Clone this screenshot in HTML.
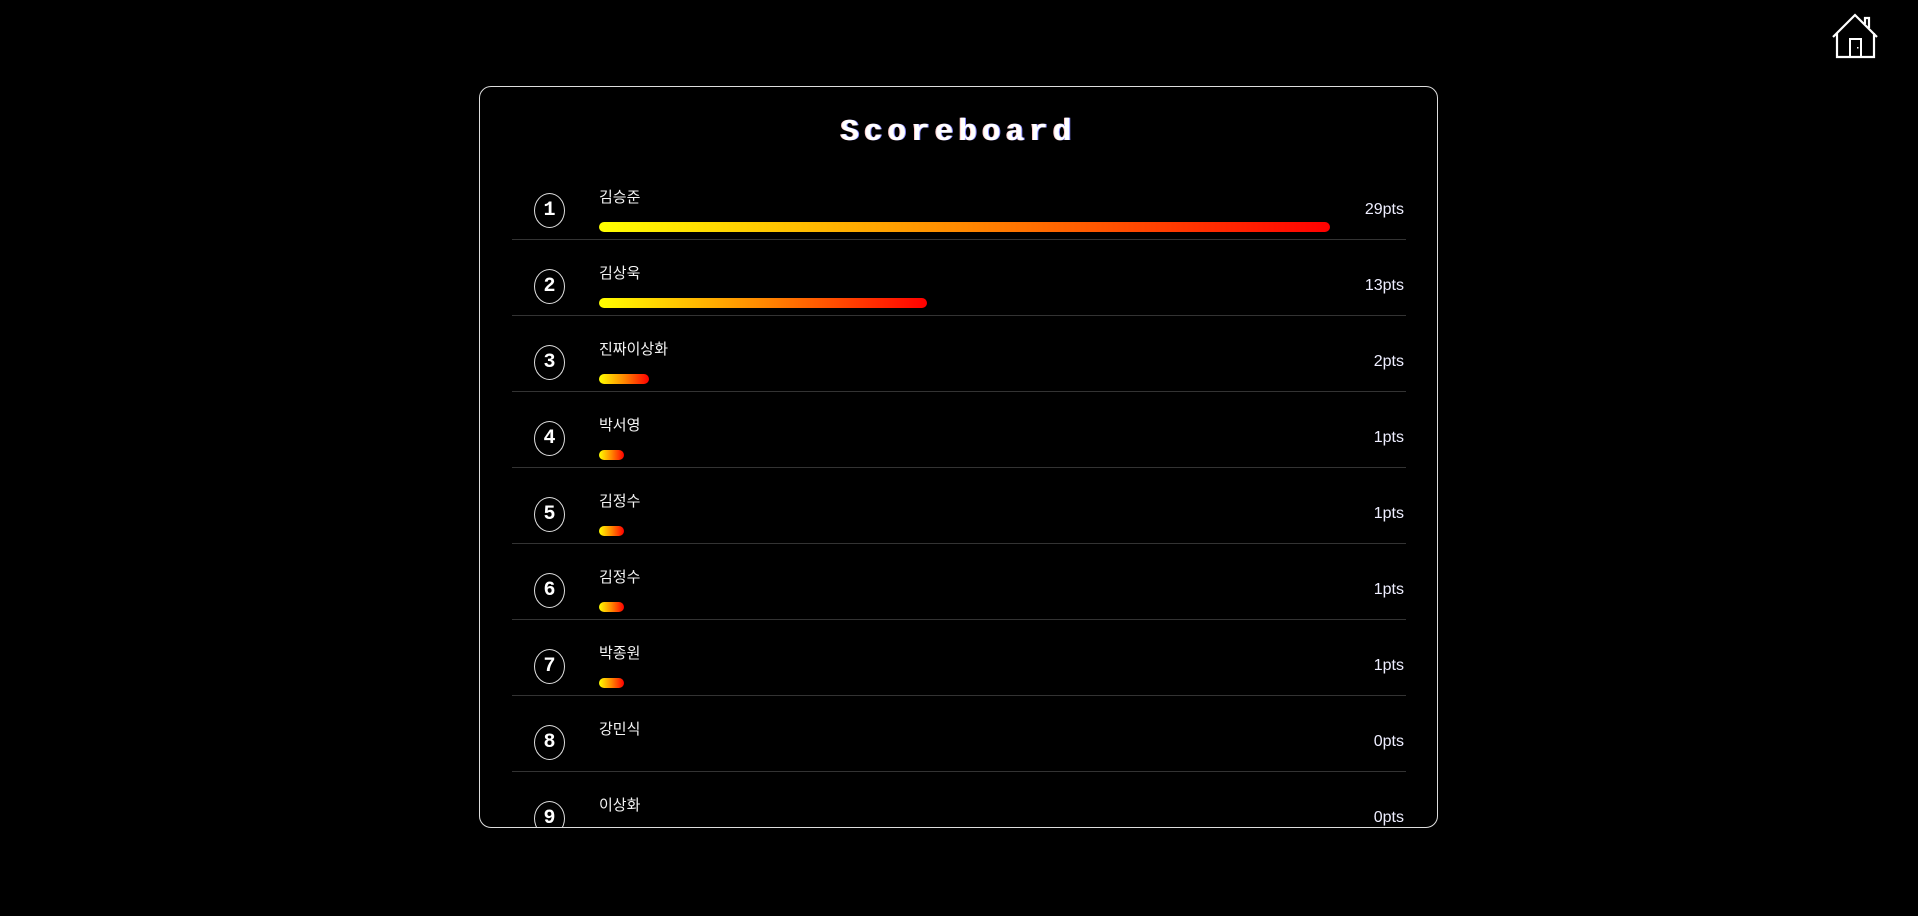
<!DOCTYPE html>
<html><head><meta charset="utf-8">
<style>
html,body{margin:0;padding:0;background:#000;width:1918px;height:916px;overflow:hidden;font-family:"Liberation Sans","Noto Sans CJK KR",sans-serif;color:#fff}
#home{position:absolute;left:1832px;top:13px;width:47px;height:46px}
#panel{position:absolute;left:479px;top:86px;width:957px;height:740px;border:1px solid #ddd;border-radius:12px;overflow:hidden;background:#000}
#title{position:absolute;left:0;right:0;top:28px;text-align:center;font-family:"Liberation Mono",monospace;font-weight:bold;font-size:31px;letter-spacing:5px;color:#fff;text-shadow:1px 0 #88f,-1px 0 #fcc}
.row{position:absolute;left:32px;width:894px;height:76px;border-bottom:1px solid #333;box-sizing:border-box}
.rank{position:absolute;left:22px;width:29px;height:33px;border:1px solid #ddd;border-radius:50%;text-align:center;line-height:33px;font-family:"Liberation Mono",monospace;font-weight:bold;font-size:20px}
.name{position:absolute;left:87px;font-size:15px;color:#f4f4f4}
.bar{position:absolute;left:87px;height:10px;border-radius:5px;background:linear-gradient(to right,#ff0,#f80 50%,#f00)}
.score{position:absolute;right:2px;font-size:16px;color:#eef}
</style></head><body>
<svg id="home" viewBox="0 0 47 46">
<path d="M1 24 L23 2 L45 24 M5 20 V44 H42 V20 M33 11 V5 H37 V15" fill="none" stroke="#fff" stroke-width="2.2"/>
<rect x="18" y="26" width="11" height="18" fill="none" stroke="#fff" stroke-width="2"/>
<rect x="25" y="34" width="1.5" height="1.5" fill="#fff"/>
</svg>
<div id="panel">
<div id="title">Scoreboard</div>
<div id="rows"></div>
</div>
<script>
const names=["김승준","김상욱","진짜이상화","박서영","김정수","김정수","박종원","강민식","이상화"];
const scores=[29,13,2,1,1,1,1,0,0];
const maxScore=29;
const maxBarWidth=731;
function barX(v){return v/maxScore*maxBarWidth;}
const rows=document.getElementById('rows');
for(let i=0;i<names.length;i++){
  const top=77+76*i;
  const r=document.createElement('div');
  r.className='row';r.style.top=top+'px';
  
  
  const k=document.createElement('div');k.className='rank';k.style.top='29px';k.textContent=i+1;
  
  
  const n=document.createElement('div');n.className='name';n.style.top='22px';n.textContent=names[i];
  
  
  r.appendChild(k);r.appendChild(n);
  if(scores[i]>0){
    const b=document.createElement('div');b.className='bar';b.style.top='58px';b.style.width=barX(scores[i])+'px';
    
    
    r.appendChild(b);
  }
  const s=document.createElement('div');s.className='score';s.style.top='37px';s.textContent=scores[i]+'pts';
  
  
  r.appendChild(s);
  rows.appendChild(r);
}
</script>
</body></html>
